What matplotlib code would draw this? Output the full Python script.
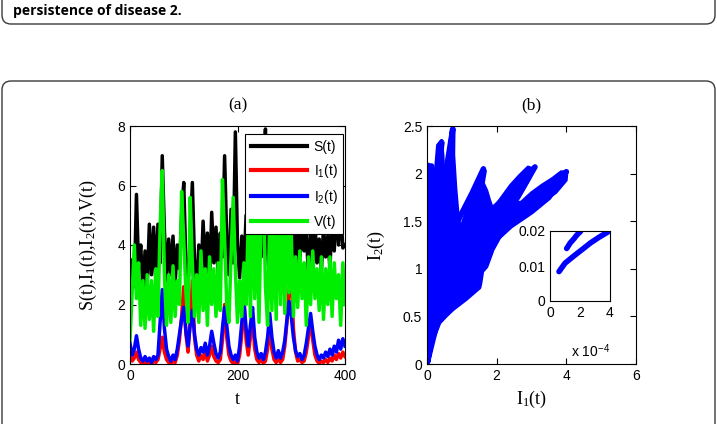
import matplotlib
matplotlib.use("Agg")
import matplotlib.pyplot as plt
from matplotlib.patches import FancyBboxPatch
from matplotlib.transforms import IdentityTransform

plt.rcParams['font.family'] = ['Liberation Sans', 'DejaVu Sans']
plt.rcParams['mathtext.fontset'] = 'custom'
plt.rcParams['mathtext.rm'] = 'Liberation Serif'
plt.rcParams['mathtext.it'] = 'Liberation Serif:italic'
plt.rcParams['mathtext.sf'] = 'Liberation Sans'

# ---- panel (a): time series, sampled every 4 time units ----
t = list(range(0, 401, 4))
S = [2.0, 3.5, 2.6, 5.7, 3.2, 4.0, 2.4, 3.8, 2.6, 4.7,
     3.0, 4.6, 2.8, 4.7, 3.4, 7.0, 4.5, 2.8, 4.2, 3.0,
     4.3, 2.7, 4.0, 3.2, 5.0, 6.1, 3.4, 2.6, 4.2, 6.1,
     3.5, 2.4, 4.0, 2.8, 4.8, 3.2, 4.4, 2.6, 5.1, 3.4,
     4.6, 2.9, 4.4, 3.6, 7.0, 4.2, 3.0, 5.2, 3.4, 7.8,
     4.0, 2.9, 4.3, 3.2, 5.0, 3.0, 5.6, 3.4, 4.8, 2.8,
     5.4, 3.6, 6.5, 7.9, 3.8, 2.6, 3.9, 2.4, 4.2, 2.8,
     5.0, 3.0, 4.6, 3.4, 5.2, 3.6, 4.8, 3.2, 4.6, 3.4,
     5.0, 3.8, 4.4, 3.0, 4.5, 3.3, 4.8, 3.4, 4.2, 3.1,
     4.6, 3.6, 4.3, 3.2, 5.0, 3.8, 5.3, 4.0, 5.2, 3.9, 4.0]
I1 = [0.3, 0.1, 0.2, 0.4, 0.15, 0.05, 0.0, 0.1, 0.02, 0.08,
      0.0, 0.1, 0.05, 0.15, 0.5, 0.9, 0.4, 0.15, 0.05, 0.0,
      0.1, 0.05, 0.3, 0.8, 1.6, 2.6, 1.0, 0.4, 1.5, 2.8,
      0.9, 0.3, 0.1, 0.3, 0.15, 0.4, 0.1, 0.3, 0.6, 0.25,
      0.1, 0.05, 0.15, 0.8, 2.0, 0.9, 0.3, 0.1, 0.02, 0.1,
      0.0, 0.3, 1.0, 2.2, 0.8, 0.3, 0.9, 1.6, 0.5, 0.15,
      0.05, 0.15, 0.02, 0.1, 0.5, 1.3, 0.5, 0.15, 0.05, 0.2,
      0.05, 0.15, 0.6, 1.4, 2.5, 3.0, 1.2, 0.4, 0.1, 0.15,
      0.05, 0.1, 0.4, 0.9, 1.5, 0.8, 0.3, 0.1, 0.02, 0.1,
      0.05, 0.15, 0.05, 0.2, 0.1, 0.3, 0.15, 0.35, 0.2, 0.4, 0.25]
I2 = [0.7, 0.3, 0.5, 0.95, 0.5, 0.2, 0.1, 0.25, 0.1, 0.2,
      0.05, 0.25, 0.15, 0.3, 1.4, 2.5, 1.2, 0.5, 0.25, 0.1,
      0.3, 0.15, 0.5, 1.0, 1.5, 1.9, 1.1, 0.6, 1.3, 1.8,
      1.0, 0.5, 0.3, 0.55, 0.4, 0.7, 0.3, 0.6, 1.1, 0.7,
      0.35, 0.2, 0.4, 1.2, 1.9, 1.3, 0.6, 0.3, 0.15, 0.3,
      0.1, 0.6, 1.4, 2.1, 1.2, 0.6, 1.3, 1.9, 0.9, 0.4,
      0.2, 0.35, 0.15, 0.4, 0.9, 1.7, 0.9, 0.4, 0.2, 0.45,
      0.2, 0.4, 0.8, 1.5, 2.1, 1.6, 0.9, 0.45, 0.25, 0.35,
      0.15, 0.3, 0.7, 1.2, 1.7, 1.1, 0.6, 0.3, 0.15, 0.3,
      0.2, 0.4, 0.25, 0.5, 0.3, 0.6, 0.4, 0.8, 0.5, 0.85, 0.6]
V = [0.8, 2.4, 4.0, 2.2, 3.4, 1.3, 2.8, 1.2, 3.0, 1.5,
     2.8, 1.1, 3.2, 1.6, 4.6, 6.5, 3.0, 1.3, 3.0, 1.4,
     3.3, 1.6, 2.8, 2.0, 5.8, 4.2, 2.4, 1.4, 5.6, 3.4,
     1.6, 3.0, 1.4, 3.8, 1.8, 3.2, 1.3, 3.6, 2.0, 3.2,
     1.6, 3.4, 1.8, 6.2, 4.2, 2.0, 1.4, 3.6, 5.6, 3.2,
     1.4, 2.8, 1.6, 3.4, 2.0, 4.8, 1.6, 5.4, 2.2, 4.8,
     1.4, 5.2, 6.0, 2.6, 1.3, 5.0, 1.8, 4.6, 1.5, 5.4,
     2.0, 4.8, 1.7, 5.2, 2.4, 4.4, 1.6, 3.6, 1.9, 3.8,
     2.2, 3.4, 1.3, 3.6, 2.0, 3.8, 2.2, 3.2, 1.8, 3.6,
     1.5, 3.2, 2.0, 3.6, 1.6, 3.4, 2.2, 3.0, 1.3, 3.4, 2.0]

# ---- panel (b): phase trajectory I2 vs I1 ----
# outline of the region swept by the trajectory
fan_I1 = [0, 0, 0.05, 0.13, 0.16, 0.22, 0.3, 0.42, 0.46, 0.5,
          0.53, 0.58, 0.65, 0.72, 0.78, 0.77, 0.83, 0.9, 0.96, 1.05,
          1.2, 1.35, 1.5, 1.62, 1.68, 1.62, 1.72, 1.8, 1.9, 2.0,
          2.2, 2.4, 2.65, 2.9, 3.05, 2.95, 2.75, 2.55, 2.7, 3.0,
          3.3, 3.6, 3.85, 4.02, 4.0, 3.7, 3.4, 3.0, 2.6, 2.2,
          1.9, 1.72, 1.6, 1.55, 1.52, 1.14, 0.75, 0.55, 0.37, 0.18,
          0.08, 0]
fan_I2 = [0, 2.1, 2.1, 2.08, 1.85, 1.95, 2.3, 2.35, 2.2, 1.9,
          1.5, 1.85, 2.15, 2.47, 2.47, 2.2, 1.85, 1.55, 1.42, 1.52,
          1.68, 1.82, 1.97, 2.06, 2.03, 1.9, 1.82, 1.72, 1.62, 1.68,
          1.78, 1.88, 1.98, 2.07, 2.05, 1.95, 1.82, 1.7, 1.7, 1.8,
          1.88, 1.95, 2.02, 2.02, 1.93, 1.8, 1.72, 1.62, 1.5, 1.4,
          1.2, 1.02, 0.97, 0.85, 0.8, 0.68, 0.57, 0.5, 0.43, 0.25,
          0.12, 0]
# individual excursions of the trajectory
b_I1 = [0, 0.02, 0.05, 0.08, 0.13, 0.1, 0.06, 0.02, 0,
        0.05, 0.12, 0.22, 0.32, 0.42, 0.35, 0.25, 0.12, 0.03, 0,
        0.05, 0.15, 0.3, 0.45, 0.6, 0.74, 0.62, 0.5, 0.38, 0.22, 0.08, 0,
        0.1, 0.3, 0.6, 0.95, 1.3, 1.62, 1.4, 1.0, 0.6, 0.3, 0.1, 0,
        0.15, 0.4, 0.8, 1.3, 1.8, 2.4, 3.1, 2.6, 2.0, 1.4, 0.8, 0.3, 0,
        0.2, 0.5, 1.0, 1.6, 2.2, 2.8, 3.4, 4.0, 3.5, 3.0, 2.4, 1.8, 1.2, 0.7, 0.3, 0]
b_I2 = [0, 0.5, 1.0, 1.5, 2.08, 1.6, 1.0, 0.4, 0,
        0.5, 1.0, 1.5, 1.9, 2.33, 1.85, 1.35, 0.8, 0.3, 0,
        0.4, 0.9, 1.4, 1.8, 2.15, 2.47, 2.05, 1.65, 1.3, 0.85, 0.35, 0,
        0.5, 0.9, 1.25, 1.55, 1.8, 2.05, 1.7, 1.4, 1.1, 0.75, 0.4, 0,
        0.5, 0.8, 1.1, 1.4, 1.6, 1.8, 2.07, 1.75, 1.5, 1.25, 0.95, 0.6, 0,
        0.45, 0.7, 0.9, 1.15, 1.4, 1.6, 1.8, 2.02, 1.75, 1.6, 1.45, 1.25, 1.0, 0.8, 0.45, 0]

# inset (I1 in units of 1e-4)
in_I1_a = [0.6, 1.0, 1.6, 2.2, 2.7, 3.3, 3.93]
in_I2_a = [0.0084, 0.0108, 0.0129, 0.0149, 0.0166, 0.0183, 0.0199]
in_I1_b = [1.11, 1.35, 1.6, 1.8, 2.04]
in_I2_b = [0.0150, 0.0166, 0.0178, 0.0189, 0.0199]

fig = plt.figure(figsize=(7.17, 4.24), dpi=100)

# page boxes (pixel coordinates)
for (x0, y0, w, h) in [(2, 400, 713, 60), (2, -40, 713, 383)]:
    box = FancyBboxPatch((x0, y0), w, h, boxstyle="round,pad=0,rounding_size=9",
                         transform=IdentityTransform(), fill=False,
                         edgecolor='#3a3a3a', linewidth=1.0)
    fig.add_artist(box)
fig.text(13 / 717, 1 - 11 / 424, "persistence of disease 2.", family='Open Sans',
         fontweight='bold', fontsize=10, va='center', ha='left')

tick_kw = dict(direction='in', length=4, width=0.8, labelsize=10,
               top=True, right=True)

# (a)
ax1 = fig.add_axes([130 / 717, 60 / 424, 215 / 717, 238 / 424])
ax1.plot(t, S, color='black', lw=2.5, label=r'S(t)')
ax1.plot(t, I1, color='red', lw=2.5, label=r'I$_\mathsf{1}$(t)')
ax1.plot(t, I2, color='blue', lw=2.5, label=r'I$_\mathsf{2}$(t)')
ax1.plot(t, V, color='#00ee00', lw=2.5, label=r'V(t)')
ax1.set_xlim(0, 400)
ax1.set_ylim(0, 8)
ax1.set_xticks([0, 200, 400])
ax1.set_yticks([0, 2, 4, 6, 8])
ax1.tick_params(**tick_kw)
ax1.set_title('(a)', family='Liberation Serif', fontsize=12.5, pad=12)
ax1.set_xlabel('t', family='Liberation Serif', fontsize=13)
ax1.set_ylabel(r'S(t),I$_{1}$(t),I$_{2}$(t),V(t)', family='Liberation Serif', fontsize=13)
ax1.xaxis.set_label_coords(0.5, -0.115)
ax1.yaxis.set_label_coords(-0.145, 0.5)
leg = ax1.legend(loc='upper right', bbox_to_anchor=(0.991, 0.966), borderaxespad=0,
                 fontsize=10, handlelength=4.0, handletextpad=0.5, labelspacing=0.6,
                 fancybox=False, framealpha=1, edgecolor='black')
leg.get_frame().set_linewidth(0.8)
for ln in leg.get_lines():
    ln.set_linewidth(3)

# (b)
ax2 = fig.add_axes([427 / 717, 60 / 424, 209 / 717, 238 / 424])
ax2.fill(fan_I1, fan_I2, facecolor='blue', edgecolor='blue', lw=2, joinstyle='round')
ax2.plot(b_I1, b_I2, color='blue', lw=4, solid_joinstyle='round', solid_capstyle='round')
ax2.set_xlim(0, 6)
ax2.set_ylim(0, 2.5)
ax2.set_xticks([0, 2, 4, 6])
ax2.set_yticks([0, 0.5, 1, 1.5, 2, 2.5])
ax2.set_yticklabels(['0', '0.5', '1', '1.5', '2', '2.5'])
ax2.tick_params(**tick_kw)
ax2.set_title('(b)', family='Liberation Serif', fontsize=12.5, pad=12)
ax2.set_xlabel(r'I$_{1}$(t)', family='Liberation Serif', fontsize=13)
ax2.set_ylabel(r'I$_{2}$(t)', family='Liberation Serif', fontsize=13)
ax2.xaxis.set_label_coords(0.5, -0.105)
ax2.yaxis.set_label_coords(-0.19, 0.5)

# inset
ax3 = fig.add_axes([550 / 717, 123 / 424, 60 / 717, 70 / 424])
ax3.plot(in_I1_a, in_I2_a, color='blue', lw=4, solid_capstyle='round')
ax3.plot(in_I1_b, in_I2_b, color='blue', lw=4, solid_capstyle='round')
ax3.set_xlim(0, 4)
ax3.set_ylim(0, 0.02)
ax3.set_xticks([0, 2, 4])
ax3.set_yticks([0, 0.01, 0.02])
ax3.set_yticklabels(['0', '0.01', '0.02'])
ax3.tick_params(direction='in', length=0, labelsize=10)
ax3.text(1.0, -0.72, r'x 10$^\mathsf{-4}$', transform=ax3.transAxes,
         ha='right', va='center', fontsize=10)

for ax in (ax1, ax2, ax3):
    for sp in ax.spines.values():
        sp.set_linewidth(0.8)

fig.savefig('out.png', dpi=100)
